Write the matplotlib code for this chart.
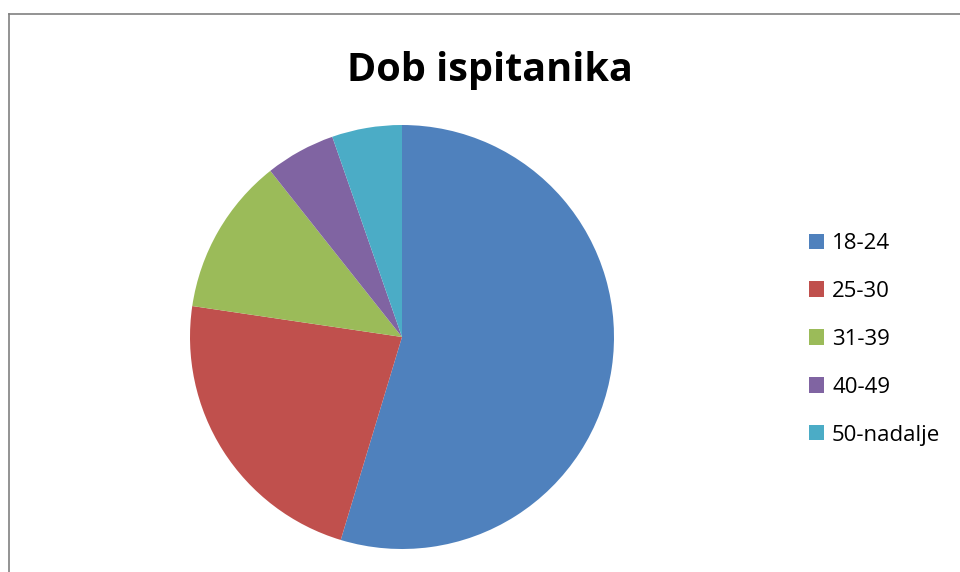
import matplotlib.pyplot as plt
from matplotlib.lines import Line2D

labels = ['18-24', '25-30', '31-39', '40-49', '50-nadalje']
values = [41, 17, 9, 4, 4]
colors = ['#4F81BD', '#C0504D', '#9BBB59', '#8064A2', '#4BACC6']

W, H = 960, 572
fig = plt.figure(figsize=(W / 100, H / 100), dpi=100)

# pie centre ~(402, 337) px, radius ~212 px
cx, cy, r = 402, 337, 212
ax = fig.add_axes([(cx - r) / W, (H - cy - r) / H, 2 * r / W, 2 * r / H])
wedges, _ = ax.pie(values, colors=colors, startangle=90, counterclock=False,
                   radius=1, wedgeprops=dict(linewidth=0))
ax.set_xlim(-1, 1)
ax.set_ylim(-1, 1)
ax.set_aspect('equal')
ax.axis('off')

fig.text(490 / W, 1 - 71 / H, 'Dob ispitanika', ha='center', va='center',
         fontsize=28.5, fontweight='bold', family='Open Sans')

leg = fig.legend(wedges, labels, loc='upper left',
                 bbox_to_anchor=(809 / W, 1 - 233 / H),
                 frameon=False, prop={'family': 'Open Sans', 'size': 16},
                 handlelength=0.68, handleheight=0.68, handletextpad=0.36,
                 labelspacing=1.21, borderaxespad=0, borderpad=0)

# chart border (only top and left visible)
fig.add_artist(Line2D([8.5 / W, 8.5 / W], [0, 1 - 13.5 / H], color='#808080', lw=1.2))
fig.add_artist(Line2D([8.5 / W, 1], [1 - 13.5 / H, 1 - 13.5 / H], color='#808080', lw=1.2))

fig.savefig('out.png', dpi=100)
